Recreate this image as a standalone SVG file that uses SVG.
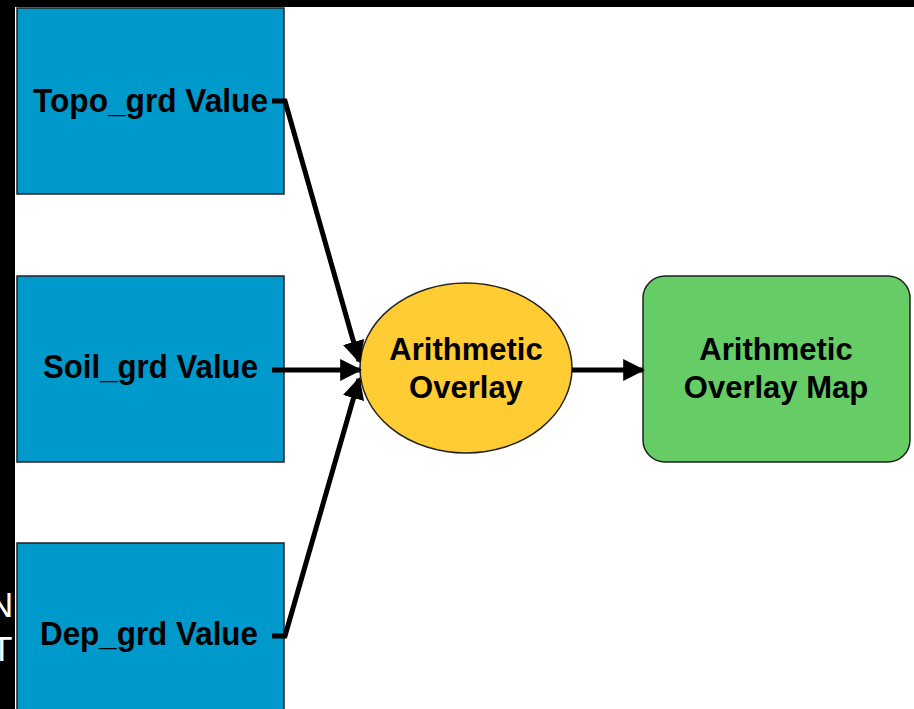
<svg xmlns="http://www.w3.org/2000/svg" width="914" height="709" viewBox="0 0 914 709">
<defs>
<style>
.box{fill:#0099cc;stroke:#222;stroke-width:1.5}
.lbl{font-family:"Liberation Sans",Arial,sans-serif;font-weight:bold;fill:#000;text-anchor:middle}
.c{stroke:#000;stroke-width:5;fill:none}
.frag{font-family:"Liberation Sans",Arial,sans-serif;font-size:35px;fill:#fff}
</style>
<marker id="ah" viewBox="0 0 10 10" refX="9" refY="5" markerWidth="4.4" markerHeight="4.4" orient="auto" markerUnits="strokeWidth">
<path d="M0,0 L10,5 L0,10 Z" fill="#000"/>
</marker>
</defs>
<rect x="0" y="0" width="914" height="709" fill="#fff"/>
<rect x="0" y="0" width="914" height="7" fill="#000"/>
<rect x="0" y="0" width="15" height="709" fill="#000"/>
<text class="frag" x="-12" y="617">N</text>
<text class="frag" x="-9" y="661">T</text>
<g id="topo"><rect class="box" x="17" y="8" width="267" height="186"/><text class="lbl" x="150.5" y="112" font-size="33" textLength="235" lengthAdjust="spacingAndGlyphs">Topo_grd Value</text></g>
<g id="soil"><rect class="box" x="17" y="276" width="267" height="186"/><text class="lbl" x="150.5" y="378" font-size="33" textLength="215" lengthAdjust="spacingAndGlyphs">Soil_grd Value</text></g>
<g id="dep"><rect class="box" x="17" y="543" width="267" height="190"/><text class="lbl" x="149" y="645" font-size="33" textLength="218" lengthAdjust="spacingAndGlyphs">Dep_grd Value</text></g>
<g id="overlay"><ellipse cx="466" cy="368" rx="106" ry="85" fill="#ffcc33" stroke="#222" stroke-width="1.5"/><text class="lbl" x="466" y="360" font-size="31">Arithmetic</text><text class="lbl" x="466" y="398" font-size="31">Overlay</text></g>
<g id="map"><rect x="643" y="276" width="267" height="186" rx="22" fill="#66cc66" stroke="#222" stroke-width="1.5"/><text class="lbl" x="776" y="360" font-size="31">Arithmetic</text><text class="lbl" x="776" y="398" font-size="31">Overlay Map</text></g>
<g id="connectors">
<polyline class="c" points="272,101 285,101 359,361" marker-end="url(#ah)"/>
<line class="c" x1="272" y1="370" x2="360" y2="370" marker-end="url(#ah)"/>
<polyline class="c" points="272,636 285,636 359,379" marker-end="url(#ah)"/>
<line class="c" x1="572" y1="370" x2="643" y2="370" marker-end="url(#ah)"/>
</g>
</svg>
